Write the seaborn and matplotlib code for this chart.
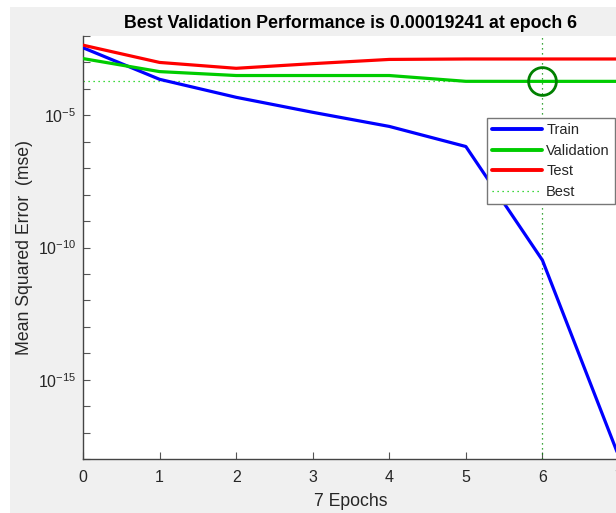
import numpy as np
import pandas as pd
import matplotlib
matplotlib.use('Agg')
import matplotlib.pyplot as plt
import matplotlib.ticker as mticker
from matplotlib.lines import Line2D
from matplotlib.patches import Rectangle
import seaborn as sns

# 데이터
epochs = [0, 1, 2, 3, 4, 5, 6, 7]
train_mse = [3.6e-3, 2.3e-4, 4.8e-5, 1.3e-5, 3.8e-6, 6.6e-7, 3.3e-11, 1.2e-18]
val_mse = [1.4e-3, 4.5e-4, 3.2e-4, 3.2e-4, 3.2e-4, 1.93e-4, 1.9241e-4, 1.9241e-4]
test_mse = [4.5e-3, 1.0e-3, 6.0e-4, 9.0e-4, 1.3e-3, 1.35e-3, 1.35e-3, 1.35e-3]
series_names = ['Train', 'Validation', 'Test']
best_epoch = 6
best_perf = 0.00019241

colors = {'Train': (0, 0, 1), 'Validation': (0, 0.8, 0), 'Test': (1, 0, 0)}

df = pd.DataFrame({
    'epoch': epochs * 3,
    'mse': train_mse + val_mse + test_mse,
    'series': [s for s in series_names for _ in epochs],
})

sns.set_style('white')
plt.rcParams['font.family'] = ['Liberation Sans', 'DejaVu Sans']
plt.rcParams['mathtext.fontset'] = 'custom'
plt.rcParams['mathtext.rm'] = 'Liberation Sans'

W, H = 616, 513
fig = plt.figure(figsize=(W / 100, H / 100), dpi=100, facecolor='white')
# 회색 배경 (왼쪽/위쪽 흰 여백 남김)
fig.patches.append(Rectangle((10 / W, 0), 1, (H - 7) / H, transform=fig.transFigure,
                             facecolor='#f0f0f0', edgecolor='none', zorder=-10))

ax = fig.add_axes([83 / W, (H - 459) / H, (619 - 83) / W, (459 - 36) / H])
ax.set_facecolor('white')

sns.lineplot(data=df, x='epoch', y='mse', hue='series', palette=colors,
             linewidth=2.3, legend=False, ax=ax, zorder=3)

ax.set_yscale('log')
ax.set_xlim(0, 7)
ax.set_ylim(1e-18, 1e-2)

# best 표시
ax.axhline(best_perf, color=(0, 0.8, 0), linestyle=(0, (1, 3)), linewidth=0.9, zorder=2)
ax.axvline(best_epoch, color=(0, 0.55, 0), linestyle=(0, (1, 3)), linewidth=0.9, zorder=2)
ax.plot([best_epoch], [best_perf], 'o', markersize=20, markerfacecolor='none',
        markeredgecolor=(0, 0.5, 0), markeredgewidth=2, zorder=4)

# 눈금
ax.set_xticks(epochs)
ax.yaxis.set_major_locator(mticker.FixedLocator([1e-15, 1e-10, 1e-5]))
ax.yaxis.set_major_formatter(mticker.FuncFormatter(lambda v, p: r'$10^{%d}$' % round(np.log10(v))))
ax.yaxis.set_minor_locator(mticker.FixedLocator([10.0 ** k for k in range(-18, -1)]))
ax.yaxis.set_minor_formatter(mticker.NullFormatter())
ax.tick_params(axis='both', which='major', direction='in', length=5, width=0.8,
               color='#555555', labelsize=11.5, labelcolor='#262626', pad=8,
               left=True, bottom=True)
ax.tick_params(axis='y', which='minor', direction='in', length=5, width=0.8,
               color='#555555', left=True)
ax.tick_params(axis='x', which='minor', length=0)
ax.tick_params(axis='y', which='major', pad=5)

for side in ['top', 'right']:
    ax.spines[side].set_visible(False)
for side in ['left', 'bottom']:
    ax.spines[side].set_color('#444444')
    ax.spines[side].set_linewidth(1.0)

ax.set_title('Best Validation Performance is 0.00019241 at epoch 6',
             fontsize=12.8, fontweight='bold', color='black', pad=6)
ax.set_xlabel('7 Epochs', fontsize=12.7, color='#262626', labelpad=6)
ax.set_ylabel('Mean Squared Error  (mse)', fontsize=12.7, color='#262626', labelpad=3)

# 범례
handles = [Line2D([], [], color=colors[s], linewidth=2.8) for s in series_names]
handles.append(Line2D([], [], color=(0, 0.8, 0), linestyle=(0, (1, 3)), linewidth=0.9))
leg = ax.legend(handles, series_names + ['Best'], loc='upper left',
                bbox_to_anchor=(0.754, 0.806), fontsize=10.5, frameon=True, fancybox=False,
                edgecolor='#777777', framealpha=1, handlelength=3.4, handletextpad=0.3,
                labelspacing=0.45, borderpad=0.35, borderaxespad=0)
leg.get_frame().set_linewidth(1.0)

fig.savefig('out.png', dpi=100, facecolor=fig.get_facecolor())
